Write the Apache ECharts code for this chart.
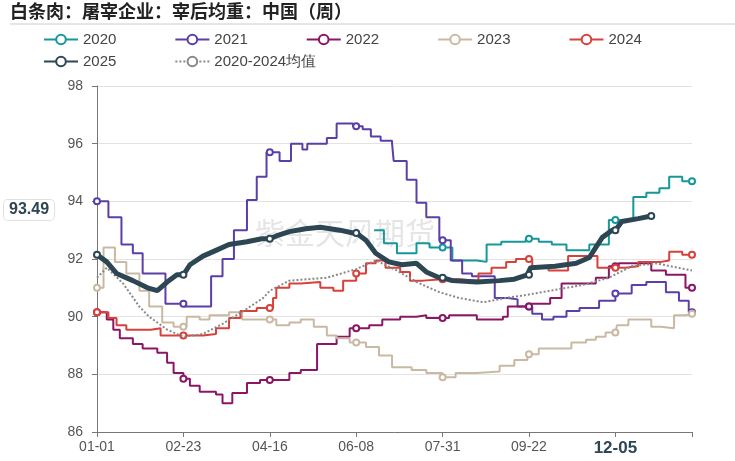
<!DOCTYPE html>
<html>
<head>
<meta charset="utf-8">
<script src="https://cdn.jsdelivr.net/npm/echarts@6/dist/echarts.min.js"></script>
<style>html,body{margin:0;padding:0;background:#fff}#main{width:735px;height:461px}</style>
</head>
<body>
<div id="main"></div>
<script>
// [day of year, value] step knots
var s2020 = [[170,93.0],[176,92.55],[184,92.2],[196,92.55],[204,92.4],[218,91.95],[233,91.9],[239,92.5],[248,92.6],[263,92.7],[271,92.6],[279,92.5],[288,92.3],[302,92.5],[314,93.35],[329,94.15],[337,94.3],[345,94.45],[351,94.85],[359,94.7],[365,94.7]];
var s2021 = [[0,94.0],[7,93.45],[15,92.5],[22,92.2],[28,91.5],[42,90.45],[54,90.35],[70,91.4],[77,92.0],[84,93.0],[92,94.05],[98,94.85],[104,95.7],[112,95.4],[119,96.0],[126,95.8],[129,96.0],[141,96.2],[147,96.7],[157,96.6],[163,96.5],[168,96.25],[174,96.1],[181,96.0],[182,95.4],[190,94.75],[196,93.95],[202,93.45],[210,92.65],[217,91.95],[224,91.5],[230,91.4],[244,90.65],[252,90.6],[258,90.35],[267,90.1],[273,89.9],[280,90.0],[288,90.2],[296,90.3],[308,90.55],[318,90.8],[328,91.1],[337,91.2],[349,90.85],[357,90.55],[363,90.15],[365,90.15]];
var s2022 = [[0,90.15],[6,89.9],[10,89.55],[14,89.25],[22,89.05],[28,88.9],[37,88.75],[43,88.4],[47,88.05],[53,87.85],[57,87.6],[63,87.4],[73,87.3],[77,87.0],[83,87.35],[92,87.7],[100,87.8],[118,88.05],[125,88.15],[135,89.05],[147,89.3],[155,89.6],[167,89.7],[175,89.9],[186,90.0],[196,90.05],[202,89.95],[216,90.05],[233,89.9],[249,90.0],[252,90.35],[266,90.45],[278,90.65],[285,91.15],[306,91.35],[314,91.75],[320,91.85],[340,91.6],[349,91.45],[361,91.0],[365,91.0]];
var s2023 = [[0,91.0],[4,92.4],[11,91.9],[18,91.5],[26,90.9],[32,90.35],[40,89.8],[47,89.65],[55,90.0],[63,89.9],[69,90.05],[81,90.15],[89,89.9],[110,89.7],[118,89.8],[125,89.9],[133,89.65],[141,89.35],[147,89.25],[155,89.1],[165,88.95],[173,88.65],[181,88.25],[193,88.15],[202,88.05],[212,87.9],[220,88.05],[233,88.1],[247,88.3],[256,88.5],[264,88.7],[271,88.9],[291,89.1],[300,89.2],[306,89.3],[312,89.45],[319,89.7],[326,89.9],[340,89.65],[346,89.6],[354,90.05],[361,90.1],[365,90.1]];
var s2024 = [[0,90.15],[7,89.95],[12,89.7],[18,89.55],[33,89.6],[39,89.35],[65,89.4],[73,89.6],[81,89.95],[88,90.2],[98,90.3],[108,90.65],[110,91.0],[118,91.15],[125,91.2],[137,91.0],[145,90.9],[151,91.25],[159,91.5],[165,91.85],[171,91.95],[177,91.7],[186,91.55],[192,91.25],[200,91.3],[222,91.25],[234,91.5],[242,91.7],[251,91.9],[257,92.0],[267,91.7],[277,91.6],[289,92.1],[307,91.7],[324,91.75],[332,91.9],[346,91.95],[351,92.25],[359,92.15],[365,92.15]];
var s2025 = [[0,92.15],[6,91.9],[12,91.5],[22,91.25],[31,91.0],[37,90.9],[43,91.2],[49,91.45],[57,91.8],[65,92.1],[73,92.3],[81,92.5],[92,92.6],[101,92.7],[110,92.8],[118,92.95],[128,93.05],[137,93.1],[149,93.0],[157,92.9],[165,92.65],[171,92.2],[179,91.9],[187,91.8],[196,91.85],[202,91.55],[210,91.35],[218,91.25],[233,91.2],[247,91.25],[256,91.3],[264,91.45],[266,91.7],[281,91.75],[294,91.85],[302,92.05],[306,92.4],[310,92.75],[316,93.0],[322,93.3],[332,93.4],[340,93.49]];
var sAvg = [[0,91.35],[6,91.7],[16,91.15],[26,90.35],[32,90.0],[43,89.55],[53,89.3],[65,89.4],[77,89.75],[90,90.2],[102,90.65],[106,90.9],[118,91.25],[141,91.35],[159,91.65],[171,91.95],[184,91.6],[196,91.2],[210,90.85],[222,90.65],[237,90.5],[251,90.65],[263,90.75],[298,91.1],[314,91.35],[328,91.75],[343,91.85],[365,91.6]];
var tickDays = [0, 53, 106, 159, 212, 265, 318];
var tickLabels = ['01-01', '02-23', '04-16', '06-08', '07-31', '09-22', '12-05'];
var lastValue = 93.49;

// add hollow circle markers on tick days (step value, no new value invented)
function withMarks(knots) {
    var out = knots.map(function (k) { return { value: k, symbol: 'none' }; });
    tickDays.forEach(function (d) {
        if (d < knots[0][0]) return;
        var v = null;
        knots.forEach(function (k) { if (k[0] <= d) v = k[1]; });
        out.push({ value: [d, v], symbol: 'emptyCircle' });
    });
    var last = knots[knots.length - 1];
    out.push({ value: last, symbol: 'emptyCircle' });
    out.sort(function (a, b) { return a.value[0] - b.value[0]; });
    return out;
}

function stepSeries(name, knots, color) {
    return {
        name: name, type: 'line', step: 'end', data: withMarks(knots),
        symbolSize: 6, lineStyle: { width: 2, color: color },
        itemStyle: { color: color }, z: 2
    };
}

var legendBase = {
    left: 38, itemGap: 58, itemWidth: 34, itemHeight: 12,
    textStyle: { fontSize: 15, color: '#444' }
};

var dom = document.getElementById('main');
var myChart = echarts.init(dom, null, { renderer: 'canvas' });

var option = {
    animation: false,
    title: {
        text: '白条肉：屠宰企业：宰后均重：中国（周）',
        left: 5, top: -3,
        textStyle: { fontSize: 18, fontWeight: 'bold', color: '#222', fontFamily: 'Noto Sans CJK SC' }
    },
    graphic: [
        { type: 'line', shape: { x1: 10, y1: 24, x2: 735, y2: 24 }, style: { stroke: '#ccc', lineWidth: 1 } },
        { type: 'text', left: 255, top: 218, silent: true,
          style: { text: '紫金天风期货', fontSize: 30, fill: 'rgba(150,150,150,0.25)', fontFamily: 'Noto Sans CJK SC' } },
        { type: 'text', left: 3, top: 199, z: 100,
          style: { text: String(lastValue), fontSize: 16, fontWeight: 'bold', fill: '#2d4654',
                   backgroundColor: '#fff', borderColor: '#e0e0e0', borderWidth: 1, borderRadius: 4, padding: [2, 5] } }
    ],
    legend: [
        Object.assign({ top: 27, data: ['2020', '2021', '2022', '2023', '2024'] }, legendBase),
        Object.assign({ top: 49, data: ['2025', '2020-2024均值'] }, legendBase)
    ],
    grid: { left: 97, right: 43, top: 86, bottom: 29 },
    xAxis: {
        type: 'value', min: 0, max: 365, interval: 53,
        axisLine: { lineStyle: { color: '#777' } },
        axisTick: { customValues: tickDays.concat([365]), length: 5, lineStyle: { color: '#777' } },
        splitLine: { show: false },
        axisLabel: {
            customValues: tickDays, fontSize: 14, color: '#555',
            formatter: function (v) {
                var i = tickDays.indexOf(v);
                if (i === tickLabels.length - 1) return '{b|' + tickLabels[i] + '}';
                return i >= 0 ? tickLabels[i] : '';
            },
            rich: { b: { fontSize: 17, fontWeight: 'bold', color: '#2d4654' } }
        }
    },
    yAxis: {
        type: 'value', min: 86, max: 98, interval: 2,
        axisLine: { show: true, lineStyle: { color: '#777' } },
        axisTick: { show: true, lineStyle: { color: '#777' } },
        splitLine: { lineStyle: { color: '#e3e3e3' } },
        axisLabel: { fontSize: 14, color: '#555', margin: 14 }
    },
    series: [
        stepSeries('2020', s2020, '#17979a'),
        stepSeries('2021', s2021, '#5b3fa8'),
        stepSeries('2022', s2022, '#8a1766'),
        stepSeries('2023', s2023, '#c9b9a3'),
        stepSeries('2024', s2024, '#d8403a'),
        {
            name: '2025', type: 'line', data: withMarks(s2025), symbolSize: 6,
            lineStyle: { width: 5, color: '#2d4654' }, itemStyle: { color: '#2d4654' }, z: 5
        },
        {
            name: '2020-2024均值', type: 'line', data: sAvg, showSymbol: false, symbol: 'emptyCircle',
            lineStyle: { width: 2, type: 'dotted', color: '#888' }, itemStyle: { color: '#888' }, z: 3
        }
    ]
};

myChart.setOption(option);
window.addEventListener('resize', myChart.resize);
</script>
</body>
</html>
